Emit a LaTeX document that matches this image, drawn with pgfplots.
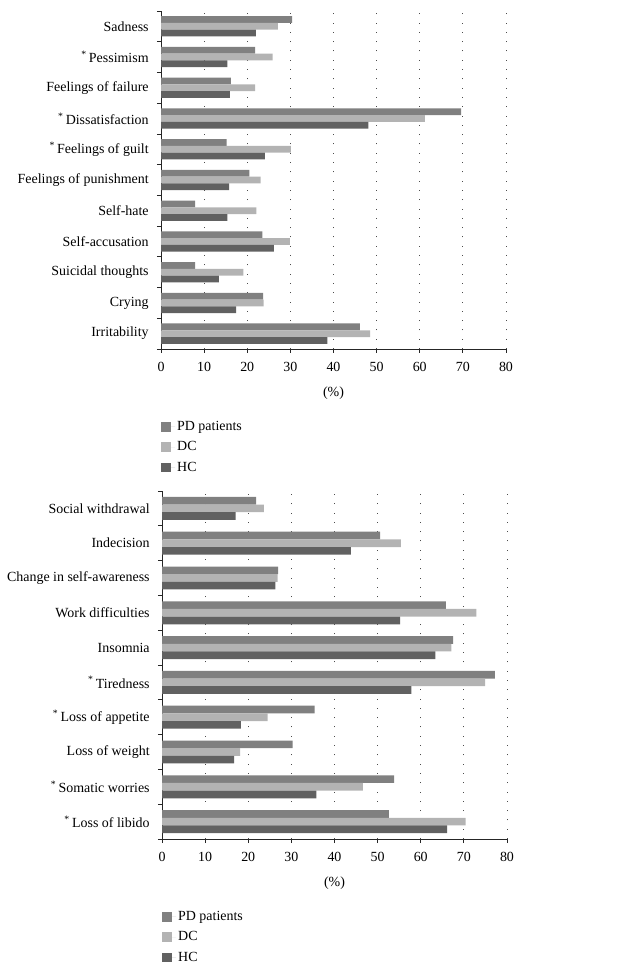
\documentclass[border=0pt]{standalone}
\usepackage{fontspec}
\setmainfont{Liberation Serif}
\usepackage{pgfplots}
\usepackage{pgfplotstable}
\pgfplotsset{compat=1.18}
\definecolor{pdc}{HTML}{808080}
\definecolor{dcc}{HTML}{B3B3B3}
\definecolor{hcc}{HTML}{616161}

\pgfplotstableread{
idx PD DC HC
10 30.4 27.1 22.0
9 21.8 25.9 15.4
8 16.2 21.8 16.0
7 69.6 61.2 48.1
6 15.2 30.1 24.1
5 20.5 23.1 15.8
4 7.9 22.1 15.4
3 23.5 29.9 26.2
2 7.9 19.1 13.4
1 23.7 23.8 17.4
0 46.1 48.5 38.6
}\toptable

\pgfplotstableread{
idx PD DC HC
9 21.8 23.6 17.1
8 50.6 55.4 43.8
7 26.9 26.8 26.3
6 65.8 72.9 55.2
5 67.5 67.1 63.4
4 77.2 74.9 57.8
3 35.4 24.5 18.3
2 30.3 18.1 16.7
1 53.8 46.6 35.8
0 52.6 70.4 66.1
}\bottable

\pgfplotsset{
  mybar/.style={
    scale only axis, width=345bp,
    xbar, bar width=0.22,
    xmin=0, xmax=80,
    axis x line*=bottom, axis y line*=left,
    axis line style={black!85, line width=0.8bp},
    xtick={0,10,...,80},
    xticklabel style={yshift=-4bp},
    xmajorgrids,
    grid style={black!70, line width=0.9bp, dash pattern=on 0.9bp off 8.4bp},
    tick align=outside, major tick length=4bp,
    tick style={black!85, line width=0.8bp},
    /pgf/number format/assume math mode=true,
    xlabel={(\%)},
    xlabel style={at={(rel axis cs:0.5,0)}, anchor=center, yshift=-44bp},
    extra y tick style={major tick length=0pt, yticklabel style={xshift=-7.5bp}},
    yticklabels={},
    legend style={at={(rel axis cs:0,0)}, anchor=north west, xshift=-3bp, yshift=-68bp,
      draw=none, fill=none, legend cell align=left, row sep=5bp},
    legend image code/.code={\draw[#1, draw=none] (0bp,-4.8bp) rectangle (9.6bp,4.8bp); \path (0bp,0bp) -- (14bp,0bp);},
  },
  pdstyle/.style={fill=pdc, draw=none, bar shift=0.22},
  dcstyle/.style={fill=dcc, draw=none, bar shift=0},
  hcstyle/.style={fill=hcc, draw=none, bar shift=-0.22},
}

\begin{document}
\fontsize{14}{16.5}\selectfont
\begin{tikzpicture}
\useasboundingbox (0,0) rectangle (618bp,971bp);
\begin{axis}[mybar, at={(161bp,622bp)}, anchor=south west, height=338bp,
  ymin=-0.5, ymax=10.5,
  ytick={-0.5,0.5,...,10.5},
  extra y ticks={0,1,...,10},
  extra y tick labels={Irritability, Crying, Suicidal thoughts, Self-accusation, Self-hate, Feelings of punishment, \textsuperscript{*}\,Feelings of guilt, \textsuperscript{*}\,Dissatisfaction, Feelings of failure, \textsuperscript{*}\,Pessimism, Sadness},
]
\addplot[pdstyle] table[x=PD, y=idx] {\toptable};
\addplot[dcstyle] table[x=DC, y=idx] {\toptable};
\addplot[hcstyle] table[x=HC, y=idx] {\toptable};
\legend{PD patients, DC, HC}
\end{axis}
\begin{axis}[mybar, at={(162bp,132bp)}, anchor=south west, height=348bp,
  ymin=-0.5, ymax=9.5,
  ytick={-0.5,0.5,...,9.5},
  extra y ticks={0,1,...,9},
  extra y tick labels={\textsuperscript{*}\,Loss of libido, \textsuperscript{*}\,Somatic worries, Loss of weight, \textsuperscript{*}\,Loss of appetite, \textsuperscript{*}\,Tiredness, Insomnia, Work difficulties, Change in self-awareness, Indecision, Social withdrawal},
]
\addplot[pdstyle] table[x=PD, y=idx] {\bottable};
\addplot[dcstyle] table[x=DC, y=idx] {\bottable};
\addplot[hcstyle] table[x=HC, y=idx] {\bottable};
\legend{PD patients, DC, HC}
\end{axis}
\end{tikzpicture}
\end{document}
